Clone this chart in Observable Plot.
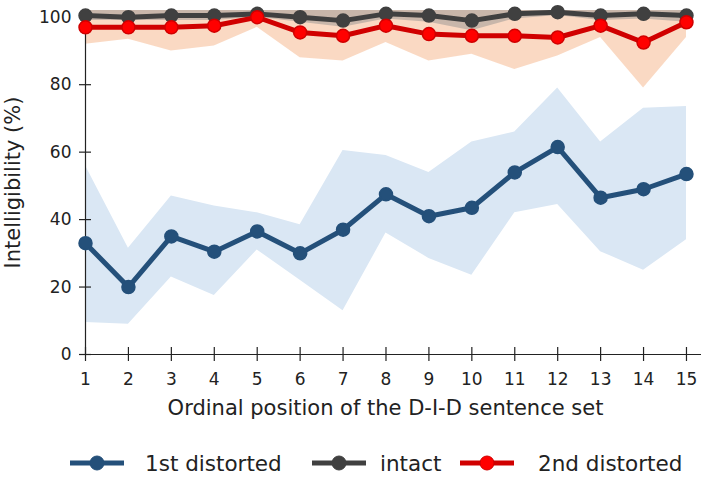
<!DOCTYPE html>
<html>
<head>
<meta charset="utf-8">
<script src="https://cdn.jsdelivr.net/npm/d3@7"></script>
<script src="https://cdn.jsdelivr.net/npm/@observablehq/plot@0.6"></script>
<style>
  body { margin: 0; background: #fff; font-family: "DejaVu Sans", sans-serif; }
  #legend svg { display: block; }
</style>
</head>
<body>
<div id="chart"></div>
<div id="legend"></div>
<script>
// ordinal position of the D-I-D sentence set
const positions = [1, 2, 3, 4, 5, 6, 7, 8, 9, 10, 11, 12, 13, 14, 15]
const yTicks = [0, 20, 40, 60, 80, 100]

// 1st distorted sentence (mean and band)
const first = [33, 20, 35, 30.5, 36.5, 30, 37, 47.5, 41, 43.5, 54, 61.5, 46.5, 49, 53.5]
const firstLow = [9.5, 9, 23, 17.5, 31, 22, 13, 36, 28.5, 23.5, 42, 44.5, 30.5, 25, 34]
const firstHigh = [56, 31.5, 47, 44, 42, 38.5, 60.5, 59, 54, 63, 66, 79, 63, 73, 73.5]

// intact sentence
const intact = [100.5, 100, 100.5, 100.5, 101, 100, 99, 101, 100.5, 99, 101, 101.5, 100.5, 101, 100.5]
const intactLow = [99, 99, 99, 99, 100, 98.5, 97, 99.5, 98.5, 96, 99.5, 100.5, 99, 99.5, 98.5]
const intactHigh = [102, 102, 102, 102, 102, 102, 102, 102, 102, 102, 102, 102, 102, 102, 102]

// 2nd distorted sentence
const second = [97, 97, 97, 97.5, 100, 95.5, 94.5, 97.5, 95, 94.5, 94.5, 94, 97.5, 92.5, 98.5]
const secondLow = [92, 93.5, 90, 91.5, 97, 88, 87, 92.5, 87, 89, 84.5, 88.5, 94, 79, 94]
const secondHigh = [102, 102, 102, 102, 102, 102, 102, 102, 102, 102, 102, 102, 102, 102, 102]

const rows = positions.map((p, i) => ({
  pos: p,
  first: first[i], firstLow: firstLow[i], firstHigh: firstHigh[i],
  intact: intact[i], intactLow: intactLow[i], intactHigh: intactHigh[i],
  second: second[i], secondLow: secondLow[i], secondHigh: secondHigh[i]
}))

const blue = '#24507a', grey = '#404040', red = '#d00000'

let chart = Plot.plot({
  width: 709,
  height: 435,
  marginLeft: 85,
  marginRight: 8,
  marginTop: 10,
  marginBottom: 81,
  x: { domain: [1, 15.35], axis: null },
  y: { domain: [0, 102], axis: null },
  style: { fontFamily: '"DejaVu Sans", sans-serif', background: '#fff', color: '#222' },
  marks: [
    // bands
    Plot.areaY(rows, { x: 'pos', y1: 'secondLow', y2: 'secondHigh', fill: '#f6bf9b', fillOpacity: 0.6, clip: true }),
    Plot.areaY(rows, { x: 'pos', y1: 'intactLow', y2: 'intactHigh', fill: '#8c8c8c', fillOpacity: 0.45, clip: true }),
    Plot.areaY(rows, { x: 'pos', y1: 'firstLow', y2: 'firstHigh', fill: '#dae7f4', clip: true }),

    // axes lines and crossing ticks
    Plot.ruleY([0], { x1: 1, x2: 15.35, stroke: '#222', strokeWidth: 1.2 }),
    Plot.ruleX([1], { y1: 0, y2: 101.5, stroke: '#222', strokeWidth: 1.2 }),
    Plot.ruleX(positions, { x: d => d, y1: 0, y2: 0, insetTop: -7, insetBottom: -7, stroke: '#222', strokeWidth: 1.2 }),
    Plot.ruleY(yTicks, { y: d => d, x1: 1, x2: 1, insetLeft: -6, insetRight: -6, stroke: '#222', strokeWidth: 1.2 }),
    Plot.text(positions, { x: d => d, y: 0, text: d => String(d), dy: 25, fontSize: 17, fill: '#222' }),
    Plot.text(yTicks, { x: 1, y: d => d, text: d => String(d), dx: -14, textAnchor: 'end', fontSize: 17, fill: '#222' }),

    // axis titles
    Plot.text(['Ordinal position of the D-I-D sentence set'], { frameAnchor: 'bottom', text: d => d,
      textAnchor: 'middle', lineAnchor: 'middle', dx: -8, dy: 54, fontSize: 21, fill: '#222' }),
    Plot.text(['Intelligibility (%)'], { frameAnchor: 'left', text: d => d, rotate: -90,
      textAnchor: 'middle', lineAnchor: 'middle', dx: -72, fontSize: 21, fill: '#222' }),

    // series
    Plot.line(rows, { x: 'pos', y: 'first', stroke: blue, strokeWidth: 5 }),
    Plot.dot(rows, { x: 'pos', y: 'first', r: 6.5, fill: blue, stroke: blue }),
    Plot.line(rows, { x: 'pos', y: 'intact', stroke: grey, strokeWidth: 5 }),
    Plot.dot(rows, { x: 'pos', y: 'intact', r: 6.5, fill: grey, stroke: grey }),
    Plot.line(rows, { x: 'pos', y: 'second', stroke: red, strokeWidth: 5 }),
    Plot.dot(rows, { x: 'pos', y: 'second', r: 6.5, fill: '#ff0000', stroke: red, strokeWidth: 1.5 })
  ]
})
d3.select('#chart').append(() => chart)

// legend below the plot
const legendItems = [
  { label: '1st distorted', color: blue, dot: blue, x0: 70, tx: 145 },
  { label: 'intact', color: grey, dot: grey, x0: 312, tx: 380 },
  { label: '2nd distorted', color: red, dot: '#ff0000', x0: 460, tx: 538 }
]
const leg = d3.select('#legend').append('svg').attr('width', 709).attr('height', 42)
legendItems.forEach(d => {
  leg.append('line').attr('x1', d.x0).attr('x2', d.x0 + 54).attr('y1', 28).attr('y2', 28)
    .attr('stroke', d.color).attr('stroke-width', 5)
  leg.append('circle').attr('cx', d.x0 + 27).attr('cy', 28).attr('r', 7)
    .attr('fill', d.dot).attr('stroke', d.color)
  leg.append('text').attr('x', d.tx).attr('y', 36).attr('font-size', 21.5).attr('fill', '#222')
    .attr('font-family', '"DejaVu Sans", sans-serif').text(d.label)
})
</script>
</body>
</html>
